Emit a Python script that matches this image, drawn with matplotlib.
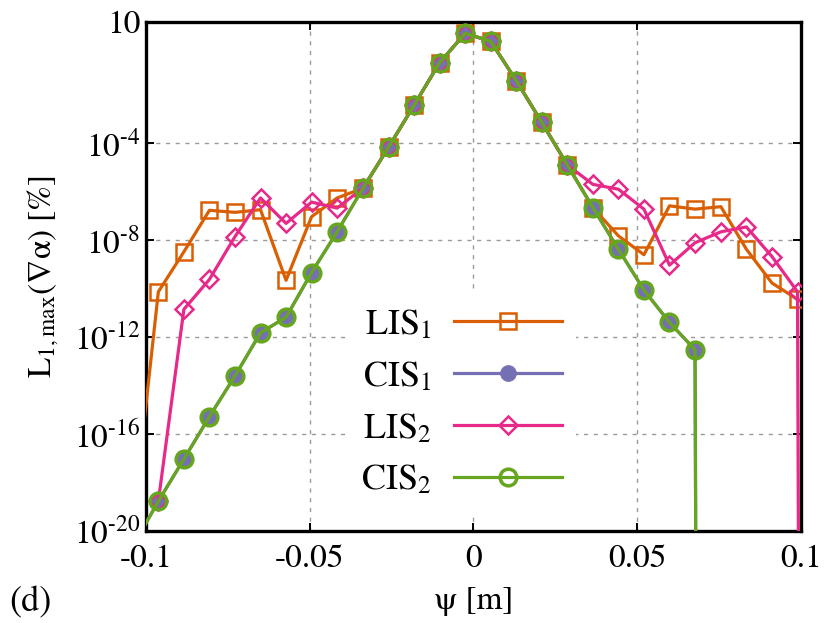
import numpy as np
import matplotlib
matplotlib.use("Agg")
import matplotlib.pyplot as plt

plt.rcParams['font.family'] = ['STIXGeneral', 'DejaVu Serif']
plt.rcParams['mathtext.fontset'] = 'stix'
plt.rcParams['axes.unicode_minus'] = False

# x positions of the cell values [m]
psi = [-0.0962, -0.0884, -0.0806, -0.0728, -0.0650, -0.0572, -0.0494, -0.0416,
       -0.0337, -0.0259, -0.0181, -0.0103, -0.0025, 0.0053, 0.0131, 0.0209,
       0.0287, 0.0365, 0.0443, 0.0521, 0.0599, 0.0677, 0.0756, 0.0834,
       0.0912, 0.0990]
psi_left_ghost = -0.1040
psi_right_ghost = 0.1068

lis1 = [7.4e-11, 3.3e-9, 1.7e-7, 1.4e-7, 1.8e-7, 2.2e-10, 9.3e-8, 5.5e-7,
        1.4e-6, 6.8e-5, 3.7e-3, 0.21, 3.4, 1.6, 0.038, 7.2e-4,
        1.26e-5, 2.2e-7, 1.5e-8, 2.5e-9, 2.6e-7, 1.9e-7, 2.4e-7, 4.2e-9,
        1.7e-10, 3.6e-11]
lis1_left_ghost = 1.8e-20

cis = [1.7e-19, 9.3e-18, 5.2e-16, 2.5e-14, 1.5e-12, 6.6e-12, 4.6e-10, 2.2e-8,
       1.4e-6, 6.8e-5, 3.7e-3, 0.21, 3.4, 1.6, 0.038, 7.2e-4,
       1.26e-5, 2.2e-7, 4.2e-9, 8.7e-11, 4.0e-12, 3.0e-13, 1e-300, 1e-300,
       1e-300, 1e-300]
cis_left_ghost = 2.3e-21

lis2 = [1.7e-19, 1.4e-11, 2.4e-10, 1.4e-8, 5.5e-7, 4.9e-8, 3.7e-7, 2.1e-7,
        1.4e-6, 6.8e-5, 3.7e-3, 0.21, 3.4, 1.6, 0.038, 7.2e-4,
        1.26e-5, 2.0e-6, 1.26e-6, 1.9e-7, 9.3e-10, 7.8e-9, 2.2e-8, 3.5e-8,
        2.1e-9, 7.4e-11]
lis2_right_ghost = 1e-300

xticks = [-0.1, -0.05, 0, 0.05, 0.1]
xticklabels = ['-0.1', '-0.05', '0', '0.05', '0.1']
yticks = [1e-20, 1e-16, 1e-12, 1e-8, 1e-4, 10]
yticklabels = ['$\\mathregular{10^{\u201020}}$', '$\\mathregular{10^{\u201016}}$',
               '$\\mathregular{10^{\u201012}}$', '$\\mathregular{10^{\u20108}}$',
               '$\\mathregular{10^{\u20104}}$', '10']

c_lis1 = '#D95F02'
c_cis1 = '#7570B3'
c_lis2 = '#E7298A'
c_cis2 = '#66A61E'

fig = plt.figure(figsize=(8.3, 6.23), dpi=100)
ax = fig.add_axes([0.1758, 0.1477, 0.789, 0.817])

lw = 2.3
ax.plot([psi_left_ghost] + psi, [lis1_left_ghost] + lis1, color=c_lis1, lw=lw,
        marker='s', ms=12, mfc='none', mew=1.8, label='LIS$_1$', zorder=3)
ax.plot([psi_left_ghost] + psi, [cis_left_ghost] + cis, color=c_cis1, lw=lw,
        marker='o', ms=11.5, mfc=c_cis1, mec=c_cis1, mew=0.5, label='CIS$_1$', zorder=3)
ax.plot(psi + [psi_right_ghost], lis2 + [lis2_right_ghost], color=c_lis2, lw=lw,
        marker='D', ms=8.8, mfc='none', mew=1.8, label='LIS$_2$', zorder=3)
ax.plot([psi_left_ghost] + psi, [cis_left_ghost] + cis, color=c_cis2, lw=lw,
        marker='o', ms=12, mfc='none', mew=2.5, label='CIS$_2$', zorder=3)

ax.set_yscale('log')
ax.set_xlim(-0.1, 0.1)
ax.set_ylim(1e-20, 10)
ax.set_xticks(xticks)
ax.set_xticklabels(xticklabels)
ax.set_yticks(yticks)
ax.set_yticklabels(yticklabels)
ax.minorticks_off()
ax.tick_params(which='major', direction='in', top=True, right=True,
               length=6, width=1.4, labelsize=24, pad=4)
ax.tick_params(axis='x', pad=10)
for s in ax.spines.values():
    s.set_linewidth(2.4)
ax.grid(True, which='major', color='#9a9a9a', linestyle=(0, (3, 4)), linewidth=1.0)

ax.set_xlabel('ψ [m]', fontsize=24, labelpad=9)
ax.set_ylabel('L$_{\\mathregular{1,max}}$(∇α) [%]', fontsize=24, labelpad=9)

leg = ax.legend(loc='upper right', bbox_to_anchor=(0.657, 0.466), markerfirst=False,
                fontsize=26, frameon=True, fancybox=False, framealpha=1.0,
                facecolor='white', edgecolor='none', handlelength=2.97,
                handletextpad=0.64, labelspacing=0.5, borderpad=0.4,
                borderaxespad=0.0)

fig.text(0.011, 1 - 603 / 623, '(d)', fontsize=26, va='center', ha='left')

fig.savefig('out.png', dpi=100)
